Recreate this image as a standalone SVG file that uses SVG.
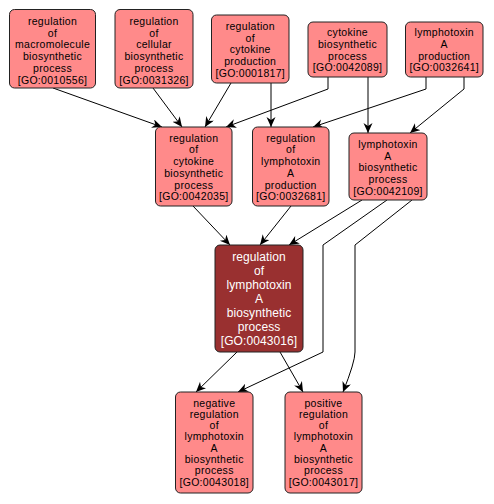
<svg xmlns="http://www.w3.org/2000/svg" width="494" height="504" viewBox="0 0 494 504">
<defs>
<style>
.n rect{fill:#ff8a8a;stroke:#222;stroke-width:1}
.n text{font-family:"Liberation Sans",Arial,sans-serif;font-size:10.5px;letter-spacing:0.3px;fill:#000;text-anchor:middle}
.c rect{fill:#993030;stroke:#222;stroke-width:1}
.c text{font-family:"Liberation Sans",Arial,sans-serif;font-size:12px;letter-spacing:0.1px;fill:#fff;text-anchor:middle}
.e path{fill:none;stroke:#000;stroke-width:1;marker-end:url(#a)}
</style>
<marker id="a" markerUnits="userSpaceOnUse" markerWidth="12" markerHeight="10" refX="10" refY="4.5" orient="auto">
<path d="M0,0 L10,4.5 L0,9 L3,4.5 z" fill="#000"/>
</marker>
</defs>
<rect width="494" height="504" fill="#fff"/>
<g id="edges" class="e">
<path d="M53,88 L162,127"/>
<path d="M153,88 L182,127"/>
<path d="M231,83 L205,127"/>
<path d="M328,77 L328,89 L226,127"/>
<path d="M271,83 L271,127"/>
<path d="M426,77 L426,89 L313,127"/>
<path d="M368,77 L368,133"/>
<path d="M464,77 L464,89 L410,133"/>
<path d="M193,206 L230,245"/>
<path d="M291,206 L260,245"/>
<path d="M362,200 L289,245"/>
<path d="M387,200 L323,245 L323,352 L238,392"/>
<path d="M412,200 L355,245 L355,352 Q355,362 343,392"/>
<path d="M237,352 L196,392"/>
<path d="M280,352 L303,392"/>
</g>
<g id="GO0010556" class="n">
<rect x="9.5" y="9.5" width="86" height="78.5" rx="5"/>
<text x="52.5" y="25">regulation</text><text x="52.5" y="36.7">of</text><text x="52.5" y="48.4">macromolecule</text><text x="52.5" y="60.1">biosynthetic</text><text x="52.5" y="71.8">process</text><text x="52.5" y="83.5">[GO:0010556]</text>
</g>
<g id="GO0031326" class="n">
<rect x="115" y="9.5" width="78" height="78.5" rx="5"/>
<text x="154" y="25">regulation</text><text x="154" y="36.7">of</text><text x="154" y="48.4">cellular</text><text x="154" y="60.1">biosynthetic</text><text x="154" y="71.8">process</text><text x="154" y="83.5">[GO:0031326]</text>
</g>
<g id="GO0001817" class="n">
<rect x="211.5" y="15" width="77.5" height="68" rx="5"/>
<text x="250.25" y="30">regulation</text><text x="250.25" y="41.7">of</text><text x="250.25" y="53.4">cytokine</text><text x="250.25" y="65.1">production</text><text x="250.25" y="76.8">[GO:0001817]</text>
</g>
<g id="GO0042089" class="n">
<rect x="308" y="22" width="79" height="55" rx="5"/>
<text x="347.5" y="36.3">cytokine</text><text x="347.5" y="48">biosynthetic</text><text x="347.5" y="59.7">process</text><text x="347.5" y="71.4">[GO:0042089]</text>
</g>
<g id="GO0032641" class="n">
<rect x="405.5" y="22" width="77.5" height="55" rx="5"/>
<text x="444.25" y="36.3">lymphotoxin</text><text x="444.25" y="48">A</text><text x="444.25" y="59.7">production</text><text x="444.25" y="71.4">[GO:0032641]</text>
</g>
<g id="GO0042035" class="n">
<rect x="155.5" y="127" width="76.5" height="79" rx="5"/>
<text x="193.75" y="141.7">regulation</text><text x="193.75" y="153.4">of</text><text x="193.75" y="165.1">cytokine</text><text x="193.75" y="176.8">biosynthetic</text><text x="193.75" y="188.5">process</text><text x="193.75" y="200.2">[GO:0042035]</text>
</g>
<g id="GO0032681" class="n">
<rect x="252.5" y="127" width="76.5" height="79" rx="5"/>
<text x="290.75" y="141.7">regulation</text><text x="290.75" y="153.4">of</text><text x="290.75" y="165.1">lymphotoxin</text><text x="290.75" y="176.8">A</text><text x="290.75" y="188.5">production</text><text x="290.75" y="200.2">[GO:0032681]</text>
</g>
<g id="GO0042109" class="n">
<rect x="349" y="133" width="78" height="67" rx="5"/>
<text x="388" y="148">lymphotoxin</text><text x="388" y="159.7">A</text><text x="388" y="171.4">biosynthetic</text><text x="388" y="183.1">process</text><text x="388" y="194.8">[GO:0042109]</text>
</g>
<g id="GO0043016" class="c">
<rect x="215" y="245" width="88" height="107" rx="5"/>
<text x="259" y="261.3">regulation</text><text x="259" y="275.3">of</text><text x="259" y="289.3">lymphotoxin</text><text x="259" y="303.3">A</text><text x="259" y="317.3">biosynthetic</text><text x="259" y="331.3">process</text><text x="259" y="345.3">[GO:0043016]</text>
</g>
<g id="GO0043018" class="n">
<rect x="175.5" y="392" width="77.5" height="101" rx="5"/>
<text x="214.25" y="406.5">negative</text><text x="214.25" y="417.8">regulation</text><text x="214.25" y="429.1">of</text><text x="214.25" y="440.4">lymphotoxin</text><text x="214.25" y="451.7">A</text><text x="214.25" y="463">biosynthetic</text><text x="214.25" y="474.3">process</text><text x="214.25" y="485.6">[GO:0043018]</text>
</g>
<g id="GO0043017" class="n">
<rect x="285" y="392" width="77" height="101" rx="5"/>
<text x="323.5" y="406.5">positive</text><text x="323.5" y="417.8">regulation</text><text x="323.5" y="429.1">of</text><text x="323.5" y="440.4">lymphotoxin</text><text x="323.5" y="451.7">A</text><text x="323.5" y="463">biosynthetic</text><text x="323.5" y="474.3">process</text><text x="323.5" y="485.6">[GO:0043017]</text>
</g>
</svg>
